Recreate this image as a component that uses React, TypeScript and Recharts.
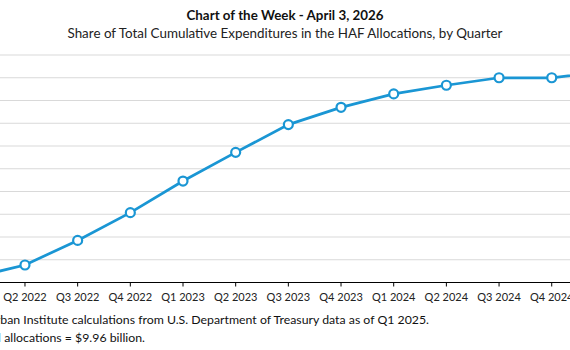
import React from "react";
import { LineChart, Line, XAxis, YAxis, CartesianGrid } from "recharts";

const quarters = [
  "Q1 2022", "Q2 2022", "Q3 2022", "Q4 2022",
  "Q1 2023", "Q2 2023", "Q3 2023", "Q4 2023",
  "Q1 2024", "Q2 2024", "Q3 2024", "Q4 2024",
  "Q1 2025",
];
const shareSpent = [2.1, 7.7, 18.5, 30.7, 44.6, 57.2, 69.4, 77.0, 82.9, 86.7, 90.0, 90.0, 92.6];
const yTicks = [0, 10, 20, 30, 40, 50, 60, 70, 80, 90, 100];

const title = "Chart of the Week - April 3, 2026";
const subtitle = "Share of Total Cumulative Expenditures in the HAF Allocations, by Quarter";
const source = "Source: Urban Institute calculations from U.S. Department of Treasury data as of Q1 2025.";
const note = "Note: Total allocations = $9.96 billion.";

const data = quarters.map((q, i) => ({ quarter: q, share: shareSpent[i] }));

const FONT = "Lato, 'Open Sans', sans-serif";
const BLUE = "#1a96d4";

export default function App() {
  return (
    <div
      style={{
        position: "absolute",
        left: 0,
        top: 0,
        width: 570,
        height: 350,
        overflow: "hidden",
        background: "#ffffff",
      }}
    >
      <div style={{ position: "absolute", left: -80, top: 0 }}>
        <LineChart
          width={730}
          height={350}
          data={data}
          margin={{ top: 55, right: 0, left: 0, bottom: 37.5 }}
        >
          <CartesianGrid vertical={false} stroke="#d9d9d9" strokeWidth={1} />
          <YAxis hide domain={[0, 100]} ticks={yTicks} interval={0} width={0} />
          <XAxis
            dataKey="quarter"
            interval={0}
            height={30}
            padding={{ left: 52.3, right: 45.6 }}
            axisLine={{ stroke: "#000000", strokeWidth: 1 }}
            tickLine={{ stroke: "#000000", strokeWidth: 1 }}
            tickSize={4}
            tickMargin={7}
            tick={{ fill: "#222222", fontSize: 11, fontFamily: FONT }}
          />
          <Line
            type="linear"
            dataKey="share"
            stroke={BLUE}
            strokeWidth={2.75}
            dot={{ r: 4.5, stroke: BLUE, strokeWidth: 2.2, fill: "#ffffff" }}
            isAnimationActive={false}
          />
        </LineChart>
      </div>
      <svg
        width={570}
        height={350}
        style={{ position: "absolute", left: 0, top: 0, pointerEvents: "none" }}
      >
        <text
          x={285}
          y={19.5}
          textAnchor="middle"
          fontFamily={FONT}
          fontWeight={700}
          fontSize={13.5}
          fill="#111111"
          textLength={197}
          lengthAdjust="spacingAndGlyphs"
        >
          {title}
        </text>
        <text
          x={285}
          y={38}
          textAnchor="middle"
          fontFamily={FONT}
          fontSize={13}
          fill="#222222"
          textLength={435}
          lengthAdjust="spacingAndGlyphs"
        >
          {subtitle}
        </text>
        <text x={429} y={324.3} textAnchor="end" fontFamily={FONT} fontSize={12.3} fill="#111111">
          {source}
        </text>
        <text x={145} y={342.3} textAnchor="end" fontFamily={FONT} fontSize={12.3} fill="#111111">
          {note}
        </text>
      </svg>
    </div>
  );
}
